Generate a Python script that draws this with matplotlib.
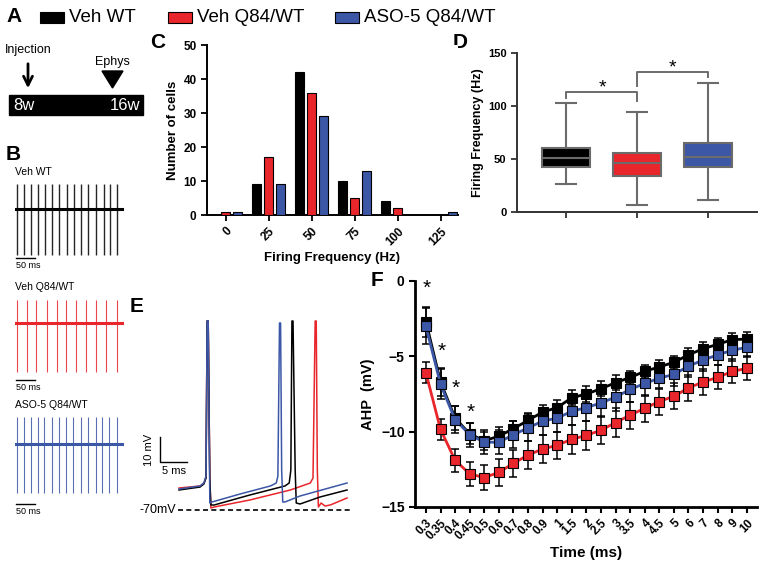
import matplotlib
matplotlib.use('Agg')
import matplotlib.pyplot as plt
from matplotlib.patches import Rectangle, Polygon
import numpy as np

plt.rcParams['font.family'] = ['Liberation Sans', 'DejaVu Sans']

# ---------------- data ----------------
groups = ['Veh WT', 'Veh Q84/WT', 'ASO-5 Q84/WT']
colors = ['#000000', '#e8262b', '#3b57a6']

# C histogram
hist_bins = ['0', '25', '50', '75', '100', '125']
hist_wt = [0, 9, 42, 10, 4, 0]
hist_q84 = [1, 17, 36, 5, 2, 0]
hist_aso = [1, 9, 29, 13, 0, 1]

# D box plot
box_whislo = [26, 7, 11]
box_q1 = [42, 34, 42]
box_med = [51, 46, 52]
box_q3 = [60, 56, 65]
box_whishi = [103, 94, 122]

# F AHP
time_labels = ['0.3', '0.35', '0.4', '0.45', '0.5', '0.6', '0.7', '0.8', '0.9', '1', '1.5',
               '2', '2.5', '3', '3.5', '4', '4.5', '5', '6', '7', '8', '9', '10']
ahp_wt = [-2.7, -6.7, -9.1, -10.15, -10.6, -10.3, -9.8, -9.25, -8.7, -8.4, -7.75, -7.5,
          -7.15, -6.75, -6.4, -6.0, -5.7, -5.4, -4.9, -4.5, -4.2, -3.9, -3.85]
ahp_q84 = [-6.1, -9.85, -11.9, -12.8, -13.05, -12.7, -12.1, -11.55, -11.15, -10.9, -10.5,
           -10.25, -9.9, -9.4, -8.9, -8.45, -8.0, -7.65, -7.1, -6.7, -6.4, -6.0, -5.8]
ahp_aso = [-3.0, -6.85, -9.2, -10.2, -10.7, -10.7, -10.2, -9.75, -9.3, -9.1, -8.65, -8.4,
           -8.1, -7.7, -7.2, -6.8, -6.45, -6.2, -5.65, -5.25, -4.9, -4.6, -4.4]
err_wt = [1.0, 0.9, 0.8, 0.7, 0.6, 0.6, 0.5, 0.5, 0.5, 0.5, 0.5, 0.5, 0.5, 0.5, 0.45,
          0.45, 0.45, 0.45, 0.45, 0.45, 0.45, 0.45, 0.45]
err_q84 = [0.7, 0.7, 0.75, 0.8, 0.85, 0.9, 0.9, 0.9, 0.9, 0.9, 0.95, 0.95, 0.95, 0.95,
           0.9, 0.9, 0.9, 0.85, 0.85, 0.85, 0.8, 0.8, 0.8]
err_aso = [1.2, 1.0, 0.9, 0.8, 0.8, 0.8, 0.9, 0.9, 0.9, 0.9, 0.9, 0.9, 0.9, 0.9, 0.8,
           0.8, 0.75, 0.75, 0.7, 0.7, 0.7, 0.7, 0.65]
ahp_sig_idx = [0, 1, 2, 3]
ahp_sig_y = [-0.5, -4.7, -7.1, -8.7]

# B spike trains (spike times, ms)
spikes_wt = [5, 24, 42, 60, 79, 97, 116, 137, 155, 174, 192, 213, 232, 250, 268]
spikes_q84 = [5, 32, 55, 84, 111, 134, 161, 187, 213, 239, 266]
spikes_aso = [5, 24, 42, 60, 76, 97, 116, 134, 153, 174, 192, 211, 229, 247, 266]
train_len = 280

# E single traces (ms, mV)
e_wt_t = [0, 3.9, 4.6, 5.0, 5.2, 5.4, 5.7, 5.9, 6.5, 13.1, 19.6, 20.4, 20.7, 20.9, 21.1,
          21.5, 21.7, 22.4, 26.1, 31.1]
e_wt_v = [-62, -60.8, -59.6, -57.2, 5.6, 5.6, -58, -68, -68, -64, -60.4, -59.2, -54, 5.6,
          5.6, -54, -67.2, -67.6, -64.8, -62]
e_q84_t = [0, 3.9, 4.6, 5.0, 5.2, 5.4, 5.7, 5.9, 6.5, 13.1, 20.6, 24.3, 24.8, 25.2, 25.4,
           25.6, 25.8, 26.3, 27.0, 28.0, 31.1]
e_q84_v = [-61.2, -60.4, -59.2, -56.8, 5.6, 5.6, -58, -69.2, -68.8, -66, -62, -59.2, -57.2,
           5.6, 5.6, -54, -68.8, -67.2, -68.4, -68, -65.2]
e_aso_t = [0, 3.9, 4.6, 5.0, 5.2, 5.4, 5.7, 6.1, 11.3, 16.9, 18.0, 18.3, 18.6, 18.8, 19.0,
           19.2, 19.6, 22.4, 31.1]
e_aso_v = [-61.6, -60.4, -59.2, -56.4, 5.6, 5.6, -67.2, -66.8, -63.6, -60.4, -59.2, -56.4,
           4.8, 4.8, -54, -66.8, -66.8, -64.4, -59.2]

# ---------------- figure ----------------
W, H = 762, 568
fig = plt.figure(figsize=(W / 100, H / 100), dpi=100)


def ax_px(x0, y0, x1, y1):
    return fig.add_axes([x0 / W, 1 - y1 / H, (x1 - x0) / W, (y1 - y0) / H])


def bold_ticks(ax):
    for t in ax.get_xticklabels() + ax.get_yticklabels():
        t.set_fontweight('bold')


# overlay in pixel coordinates
ov = fig.add_axes([0, 0, 1, 1])
ov.set_xlim(0, W)
ov.set_ylim(H, 0)
ov.axis('off')

# panel letters
for lab, (x, y) in {'A': (6, 16), 'B': (6, 154), 'C': (150, 42), 'D': (453, 42),
                    'E': (130, 306), 'F': (371, 281)}.items():
    ov.text(x, y, lab, fontsize=15, fontweight='bold', va='center', ha='left')

# legend
leg_x = [40, 168, 335]
for x, c, g in zip(leg_x, colors, groups):
    ov.add_patch(Rectangle((x, 12), 24, 11, facecolor=c, edgecolor='black', lw=0.8))
    ov.text(x + 29, 17.5, g, fontsize=13.5, va='center', ha='left')

# timeline
ov.text(5, 50, 'Injection', fontsize=9, va='center', ha='left')
ov.annotate('', xy=(28, 91), xytext=(28, 61),
            arrowprops=dict(arrowstyle='->', lw=2, color='black', mutation_scale=16))
ov.text(112, 62, 'Ephys', fontsize=9, va='center', ha='center')
ov.add_patch(Polygon([(102, 71), (123, 71), (112.5, 88)], closed=True, color='black'))
ov.add_patch(Rectangle((9, 95), 134, 20, color='black'))
ov.text(13, 105.5, '8w', color='white', fontsize=12, va='center', ha='left')
ov.text(140, 105.5, '16w', color='white', fontsize=12, va='center', ha='right')

# ---------------- B ----------------
b_specs = [
    (spikes_wt, colors[0], 'Veh WT', 172, 180, 270, 209, 25, 46, 1.0),
    (spikes_q84, colors[1], 'Veh Q84/WT', 287, 295, 392, 323, 23, 49, 0.8),
    (spikes_aso, colors[2], 'ASO-5 Q84/WT', 405, 412, 516, 444, 27, 49, 0.8),
]
for spk, c, lab, ylab, y0, y1, base, up, down, slw in b_specs:
    ov.text(15, ylab, lab, fontsize=7.5, va='center', ha='left')
    axb = ax_px(15, y0, 125, y1)
    axb.set_xlim(0, 288)
    axb.set_ylim(-(y1 - base), base - y0)
    axb.axis('off')
    axb.vlines(spk, -down, up, color=c, lw=slw, alpha=0.85)
    axb.plot([0, train_len], [0, 0], color=c, lw=2.2)
    axb.plot([2, 52], [-(y1 - base) + 12, -(y1 - base) + 12], color='black', lw=1)
    axb.text(2, -(y1 - base) + 4, '50 ms', fontsize=6.5, va='center', ha='left')

# ---------------- C ----------------
axC = ax_px(207, 45, 458, 215)
pos = np.arange(len(hist_bins))
for off, vals, c in zip([-0.28, 0, 0.28], [hist_wt, hist_q84, hist_aso], colors):
    axC.bar(pos + off, vals, 0.21, color=c, edgecolor='black', lw=0.8, zorder=3)
axC.set_xlim(-0.44, 5.4)
axC.set_ylim(0, 50)
axC.set_yticks([0, 10, 20, 30, 40, 50])
axC.set_xticks(pos)
axC.set_xticklabels(hist_bins, rotation=45, ha='right', rotation_mode='anchor')
axC.tick_params(labelsize=8.5, width=1.3, length=4)
for s in ['top', 'right']:
    axC.spines[s].set_visible(False)
for s in ['left', 'bottom']:
    axC.spines[s].set_linewidth(1.4)
axC.set_ylabel('Number of cells', fontsize=9.5, fontweight='bold', labelpad=3)
axC.set_xlabel('Firing Frequency (Hz)', fontsize=9.5, fontweight='bold', labelpad=3)
bold_ticks(axC)

# ---------------- D ----------------
axD = ax_px(517, 53, 757, 212)
stats = [dict(whislo=a, q1=b, med=m, q3=d, whishi=e, fliers=[])
         for a, b, m, d, e in zip(box_whislo, box_q1, box_med, box_q3, box_whishi)]
gray = '#6b6b6b'
bp = axD.bxp(stats, positions=[0, 1, 2], widths=0.68, patch_artist=True, showfliers=False,
             boxprops=dict(edgecolor=gray, linewidth=1.5),
             medianprops=dict(color=gray, linewidth=1.5),
             whiskerprops=dict(color=gray, linewidth=1.5),
             capprops=dict(color=gray, linewidth=1.5), capwidths=0.28)
for patch, c in zip(bp['boxes'], colors):
    patch.set_facecolor(c)
axD.plot([0, 0, 1, 1], [108, 113, 113, 105], color=gray, lw=1.4)
axD.plot([1, 1, 2, 2], [119, 132, 132, 127], color=gray, lw=1.4)
axD.text(0.52, 117, '*', fontsize=14, ha='center', va='center')
axD.text(1.5, 136, '*', fontsize=14, ha='center', va='center')
axD.set_xlim(-0.69, 2.69)
axD.set_ylim(0, 150)
axD.set_yticks([0, 50, 100, 150])
axD.set_xticks([0, 1, 2])
axD.set_xticklabels(['', '', ''])
axD.tick_params(labelsize=8, width=1.3, length=4, color='#333333')
for s in ['top', 'right']:
    axD.spines[s].set_visible(False)
for s in ['left', 'bottom']:
    axD.spines[s].set_linewidth(1.4)
    axD.spines[s].set_color('#333333')
axD.set_ylabel('Firing Frequency (Hz)', fontsize=9, fontweight='bold', labelpad=3)
bold_ticks(axD)

# ---------------- E ----------------
axE = ax_px(125, 315, 360, 520)
axE.set_xlim(-10, 33.5)
axE.set_ylim(-74, 8)
axE.axis('off')
axE.plot(e_q84_t, e_q84_v, color=colors[1], lw=1.1)
axE.plot(e_wt_t, e_wt_v, color=colors[0], lw=1.1)
axE.plot(e_aso_t, e_aso_v, color=colors[2], lw=1.1)
axE.plot([-0.2, 32.2], [-70, -70], color='black', lw=1.2, ls=(0, (3, 2)))
axE.text(-0.6, -70, '-70mV', fontsize=9, ha='right', va='center')
axE.plot([-3.5, -3.5, 1.5], [-40.8, -50.8, -50.8], color='black', lw=1)
axE.text(-4.6, -45.8, '10 mV', fontsize=8, rotation=90, ha='right', va='center')
axE.text(-1.0, -54.6, '5 ms', fontsize=8, ha='center', va='center')

# ---------------- F ----------------
axF = ax_px(415, 281, 757, 507)
xi = np.arange(len(time_labels))
for vals, errs, c, z in [(ahp_q84, err_q84, colors[1], 3), (ahp_wt, err_wt, colors[0], 4),
                         (ahp_aso, err_aso, colors[2], 5)]:
    axF.errorbar(xi, vals, yerr=errs, fmt='none', ecolor='black', elinewidth=1.1,
                 capsize=3, capthick=1.1, zorder=z)
    axF.plot(xi, vals, '-', color=c, lw=2, zorder=z)
    axF.plot(xi, vals, 's', color=c, mec='black', mew=0.8, ms=6.5, zorder=z + 0.5)
for i, y in zip(ahp_sig_idx, ahp_sig_y):
    axF.text(i + 0.05, y, '*', fontsize=15, ha='center', va='center')
axF.set_xlim(-0.75, 22.7)
axF.set_ylim(-15, 0)
axF.set_yticks([0, -5, -10, -15])
axF.set_xticks(xi)
axF.set_xticklabels(time_labels, rotation=45, ha='right', rotation_mode='anchor')
axF.tick_params(axis='x', labelsize=8.5, width=1.5, length=4)
axF.tick_params(axis='y', labelsize=10, width=1.5, length=4)
for s in ['top', 'right']:
    axF.spines[s].set_visible(False)
for s in ['left', 'bottom']:
    axF.spines[s].set_linewidth(2)
axF.set_ylabel('AHP  (mV)', fontsize=10.5, fontweight='bold', labelpad=4)
axF.set_xlabel('Time (ms)', fontsize=11, fontweight='bold', labelpad=3)
bold_ticks(axF)

fig.savefig('out.png', dpi=100)
